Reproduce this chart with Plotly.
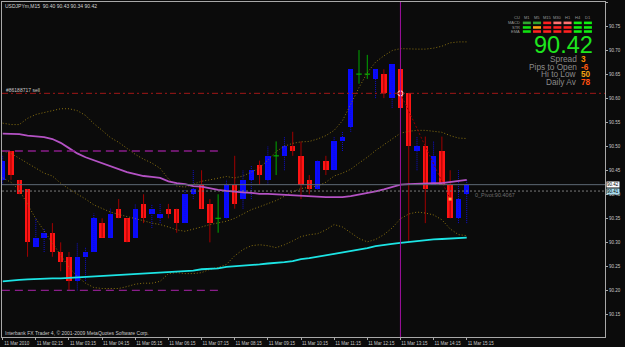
import plotly.graph_objects as go

# ---------------- data (USDJPYm, M15, 11 Mar 2010, bars from 01:15 to 15:15) ----------------
symbol = "USDJPYm,M15"
opens  = [90.43, 90.49, 90.43, 90.41, 90.29, 90.31, 90.32, 90.28, 90.27, 90.22,
          90.27, 90.28, 90.34, 90.31, 90.37, 90.35, 90.31, 90.38, 90.36, 90.35,
          90.37, 90.37, 90.34, 90.40, 90.42, 90.38, 90.35, 90.35, 90.42, 90.39,
          90.43, 90.46, 90.43, 90.48, 90.48, 90.50, 90.48, 90.43, 90.41, 90.47,
          90.45, 90.51, 90.54, 90.65, 90.65, 90.64, 90.65, 90.60, 90.66, 90.61,
          90.49, 90.50, 90.42, 90.49, 90.42, 90.35, 90.40]
highs  = [90.48, 90.49, 90.43, 90.41, 90.35, 90.33, 90.34, 90.30, 90.28, 90.30,
          90.29, 90.36, 90.35, 90.37, 90.39, 90.35, 90.38, 90.40, 90.38, 90.38,
          90.38, 90.37, 90.41, 90.45, 90.45, 90.39, 90.40, 90.43, 90.48, 90.45,
          90.46, 90.47, 90.50, 90.51, 90.52, 90.53, 90.51, 90.44, 90.47, 90.48,
          90.52, 90.53, 90.66, 90.70, 90.69, 90.66, 90.66, 90.67, 90.66, 90.61,
          90.52, 90.52, 90.51, 90.52, 90.45, 90.45, 90.43]
lows   = [90.42, 90.43, 90.40, 90.27, 90.29, 90.28, 90.27, 90.24, 90.20, 90.20,
          90.22, 90.28, 90.31, 90.31, 90.35, 90.30, 90.31, 90.34, 90.33, 90.34,
          90.35, 90.32, 90.34, 90.39, 90.37, 90.30, 90.32, 90.35, 90.37, 90.37,
          90.39, 90.42, 90.42, 90.44, 90.45, 90.48, 90.39, 90.40, 90.41, 90.44,
          90.45, 90.49, 90.53, 90.63, 90.64, 90.60, 90.60, 90.58, 90.58, 90.30,
          90.45, 90.34, 90.42, 90.42, 90.35, 90.34, 90.34]
closes = [90.47, 90.44, 90.40, 90.30, 90.31, 90.32, 90.28, 90.26, 90.22, 90.27,
          90.28, 90.35, 90.31, 90.36, 90.35, 90.30, 90.37, 90.35, 90.37, 90.36,
          90.36, 90.34, 90.40, 90.41, 90.37, 90.34, 90.35, 90.42, 90.38, 90.43,
          90.45, 90.44, 90.48, 90.48, 90.50, 90.49, 90.42, 90.41, 90.47, 90.45,
          90.51, 90.52, 90.66, 90.65, 90.65, 90.66, 90.61, 90.67, 90.58, 90.50,
          90.50, 90.41, 90.48, 90.42, 90.35, 90.39, 90.42]

ma_purple = [90.526, 90.526, 90.525, 90.522, 90.520, 90.519, 90.515, 90.507, 90.496, 90.485,
             90.477, 90.471, 90.465, 90.458, 90.452, 90.446, 90.442, 90.438, 90.436, 90.434,
             90.427, 90.423, 90.421, 90.417, 90.416, 90.412, 90.409, 90.407, 90.405, 90.404,
             90.403, 90.401, 90.401, 90.400, 90.399, 90.398, 90.396, 90.395, 90.394, 90.394,
             90.394, 90.394, 90.396, 90.399, 90.402, 90.406, 90.410, 90.415, 90.420, 90.421,
             90.422, 90.422, 90.423, 90.423, 90.425, 90.427, 90.430]
ma_cyan = [90.219, 90.221, 90.222, 90.223, 90.224, 90.224, 90.225, 90.225, 90.226, 90.227,
           90.227, 90.228, 90.229, 90.230, 90.231, 90.232, 90.233, 90.234, 90.235, 90.237,
           90.238, 90.239, 90.240, 90.241, 90.244, 90.245, 90.246, 90.249, 90.250, 90.251,
           90.252, 90.254, 90.256, 90.257, 90.259, 90.261, 90.265, 90.267, 90.270, 90.272,
           90.275, 90.278, 90.281, 90.285, 90.288, 90.292, 90.295, 90.297, 90.299, 90.301,
           90.302, 90.304, 90.306, 90.307, 90.308, 90.309, 90.310]
bb_upper = [90.548, 90.545, 90.545, 90.558, 90.566, 90.570, 90.574, 90.578, 90.578, 90.574,
            90.564, 90.547, 90.533, 90.518, 90.508, 90.496, 90.483, 90.473, 90.465, 90.454,
            90.432, 90.417, 90.415, 90.421, 90.427, 90.430, 90.433, 90.437, 90.434, 90.438,
            90.446, 90.455, 90.471, 90.489, 90.500, 90.506, 90.509, 90.510, 90.515, 90.522,
            90.533, 90.553, 90.587, 90.622, 90.653, 90.675, 90.688, 90.699, 90.703, 90.702,
            90.702, 90.702, 90.704, 90.708, 90.715, 90.717, 90.717]
bb_mid = [90.490, 90.485, 90.475, 90.465, 90.454, 90.444, 90.438, 90.423, 90.411, 90.401,
          90.390, 90.378, 90.371, 90.363, 90.358, 90.354, 90.350, 90.345, 90.340, 90.337,
          90.332, 90.326, 90.323, 90.327, 90.332, 90.337, 90.340, 90.344, 90.350, 90.359,
          90.368, 90.374, 90.380, 90.387, 90.396, 90.405, 90.412, 90.415, 90.417, 90.425,
          90.438, 90.444, 90.452, 90.465, 90.477, 90.491, 90.503, 90.514, 90.527, 90.531,
          90.533, 90.533, 90.531, 90.529, 90.522, 90.517, 90.516]
bb_lower = [90.434, 90.425, 90.409, 90.378, 90.349, 90.324, 90.299, 90.272, 90.248, 90.229,
            90.215, 90.206, 90.204, 90.204, 90.204, 90.208, 90.213, 90.215, 90.215, 90.219,
            90.235, 90.237, 90.235, 90.235, 90.237, 90.244, 90.248, 90.254, 90.272, 90.285,
            90.293, 90.295, 90.293, 90.289, 90.295, 90.303, 90.312, 90.316, 90.318, 90.326,
            90.337, 90.332, 90.320, 90.308, 90.301, 90.306, 90.316, 90.330, 90.349, 90.359,
            90.363, 90.361, 90.357, 90.347, 90.328, 90.316, 90.314]

tick_bars = [0, 4, 8, 12, 16, 20, 24, 28, 32, 36, 40, 44, 48, 52, 56]
tick_labels = ["11 Mar 2010", "11 Mar 02:15", "11 Mar 03:15", "11 Mar 04:15", "11 Mar 05:15",
               "11 Mar 06:15", "11 Mar 07:15", "11 Mar 08:15", "11 Mar 09:15", "11 Mar 10:15",
               "11 Mar 11:15", "11 Mar 12:15", "11 Mar 13:15", "11 Mar 14:15", "11 Mar 15:15"]
price_ticks = [90.15, 90.20, 90.25, 90.30, 90.35, 90.40, 90.45, 90.50,
               90.55, 90.60, 90.65, 90.70, 90.75, 90.80]
price_labels = ["90.15", "90.20", "90.25", "90.30", "90.35", "90.40", "90.45", "90.50",
                "90.55", "90.60", "90.65", "90.70", "90.75", "90.80"]

order_label = "#86188717 sell"
order_price = 90.61
pivot_price = 90.4067
pivot_text = "0_Pivot:90.4067"
pivot_box = "90.41"
sess_high = 90.49
sess_low = 90.20
sess_end_bar = 26.5
vline_bar = 48
trade_open = (48, 90.61)
trade_close = (54, 90.39)

tf_labels = ["M1", "M5", "M15", "M30", "H1", "H4", "D1"]
row_labels = ["MACD", "STR", "EMA"]
cell_colors = [
    ["#2FA52F", "#2FA52F", "#FF2020", "#FF7272", "#FF7272", "#10F010", "#10F010"],
    ["#10E010", "#FFA010", "#FF2020", "#FF2020", "#FF2020", "#10F010", "#10F010"],
    ["#10E010", "#FF2020", "#FF2020", "#FF2020", "#FF2020", "#10F010", "#10F010"],
]
last_price_text = "90.42"
info_labels = ["Spread", "Pips to Open", "Hi to Low", "Daily Av"]
info_values = ["3", "-6", "50", "78"]
info_colors = ["#FF8C00", "#FF5A10", "#F0A010", "#FF5010"]
copyright_text = "Interbank FX Trader 4, \u00a9 2001-2009 MetaQuotes Software Corp."

# ---------------- styling ----------------
BG = "#0B0B0B"
FRAME = "#A8A8A8"
FONT = "Liberation Sans, Arial, sans-serif"
W, H = 625, 347
PL, PR, PT, PB = 1, 605, 1, 338     # plot area in pixels

def fx(x):
    return (x - PL) / (PR - PL)

def fy(y):
    return (PB - y) / (PB - PT)

idx = list(range(len(opens)))
bull = [i for i in idx if closes[i] > opens[i]]
bear = [i for i in idx if closes[i] < opens[i]]
doji = [i for i in idx if closes[i] == opens[i]]

def wick_xy(sel):
    xs, ys = [], []
    for i in sel:
        xs += [i, i, None]
        ys += [lows[i], highs[i], None]
    return xs, ys

fig = go.Figure()

# wicks
for sel, col, dash in [(bear, "#A00000", "solid"), (bull, "#1010D0", "1px,1px"), (doji, "#00A800", "solid")]:
    xs, ys = wick_xy(sel)
    fig.add_trace(go.Scatter(x=xs, y=ys, mode="lines", line=dict(color=col, width=1, dash=dash),
                             hoverinfo="skip"))

BW = 0.66
# bodies
fig.add_trace(go.Bar(x=bull, y=[closes[i] - opens[i] for i in bull], base=[opens[i] for i in bull],
                     width=BW, marker=dict(color="#0A0AFF", line=dict(width=0)), hoverinfo="skip"))
fig.add_trace(go.Bar(x=bear, y=[opens[i] - closes[i] for i in bear], base=[closes[i] for i in bear],
                     width=BW, marker=dict(color="#FF1414", line=dict(width=0)), hoverinfo="skip"))
dx, dy = [], []
for i in doji:
    dx += [i - BW / 2, i + BW / 2, None]
    dy += [opens[i], opens[i], None]
fig.add_trace(go.Scatter(x=dx, y=dy, mode="lines", line=dict(color="#00B000", width=1.2), hoverinfo="skip"))

# indicators (drawn over the candles)
for arr in (bb_upper, bb_mid, bb_lower):
    fig.add_trace(go.Scatter(x=idx, y=arr, mode="lines",
                             line=dict(color="#8C7310", width=1, dash="1px,2px"), hoverinfo="skip"))
fig.add_trace(go.Scatter(x=idx, y=ma_purple, mode="lines", line=dict(color="#B452C4", width=1.8),
                         hoverinfo="skip"))
fig.add_trace(go.Scatter(x=idx, y=ma_cyan, mode="lines", line=dict(color="#1CE4E4", width=1.8),
                         hoverinfo="skip"))

# trade history
fig.add_trace(go.Scatter(x=[trade_open[0], trade_close[0]], y=[trade_open[1], trade_close[1]],
                         mode="lines", line=dict(color="#8B0000", width=1, dash="2px,2px"), hoverinfo="skip"))
fig.add_trace(go.Scatter(x=[trade_open[0]], y=[trade_open[1]], mode="markers",
                         marker=dict(symbol="circle-open", size=5, color="#FFB8B8", line=dict(width=1.2)),
                         hoverinfo="skip"))
fig.add_trace(go.Scatter(x=[trade_close[0]], y=[trade_close[1]], mode="markers",
                         marker=dict(symbol="square", size=3, color="#FFA040"), hoverinfo="skip"))

shapes = [
    dict(type="line", xref="paper", yref="y", x0=0, x1=1, y0=order_price, y1=order_price,
         line=dict(color="#A01818", width=1, dash="6px,3px,2px,3px")),
    dict(type="line", xref="paper", yref="y", x0=0, x1=1, y0=closes[-1], y1=closes[-1],
         line=dict(color="#5E6A76", width=1)),
    dict(type="line", xref="paper", yref="y", x0=0, x1=1, y0=pivot_price, y1=pivot_price,
         line=dict(color="#7A7A7A", width=1, dash="2px,2px")),
    dict(type="line", xref="x", yref="y", x0=-0.1, x1=sess_end_bar, y0=sess_high, y1=sess_high,
         line=dict(color="#8A1E8A", width=1.3, dash="8px,5px")),
    dict(type="line", xref="x", yref="y", x0=-0.1, x1=sess_end_bar, y0=sess_low, y1=sess_low,
         line=dict(color="#8A1E8A", width=1.3, dash="8px,5px")),
    dict(type="line", xref="x", yref="paper", x0=vline_bar, x1=vline_bar, y0=0, y1=1,
         line=dict(color="#A010A0", width=1)),
]

annotations = []

def ann(text, x, y, size, color, xanchor="left", yanchor="middle", xref="paper", yref="paper", **kw):
    annotations.append(dict(text=text, x=x, y=y, xref=xref, yref=yref, xanchor=xanchor, yanchor=yanchor,
                            showarrow=False, font=dict(family=FONT, size=size, color=color),
                            borderpad=0, **kw))

header = f"{symbol}&nbsp; {opens[-1]:.2f} {highs[-1]:.2f} {lows[-1]:.2f} {closes[-1]:.2f}"
ann(header, fx(3), fy(5.5), 5, "#D4D4D4")
ann(copyright_text, fx(3), fy(333.5), 5, "#C8C8C8")
ann(order_label, fx(4), fy(89.5), 5, "#C8C8C8")
ann(pivot_text, 56.9, pivot_price, 5.5, "#6E6E6E", yanchor="top", xref="x", yref="y")

# right axis boxes
ann(f"{closes[-1]:.2f}", 1.0 + 1.5 / (PR - PL), closes[-1], 4.5, "#000000", yref="y", bgcolor="#FFFFFF")
ann(pivot_box, 1.0 + 1.5 / (PR - PL), pivot_price, 4.5, "#000000", yref="y", bgcolor="#A8DCEC")

# indicator widget
col_x0, col_dx = 526.7, 10.2
row_y = [22.0, 26.6, 30.7]
ann("CU", fx(521), fy(16.7), 4, "#9A9A9A", xanchor="right")
for c, lab in enumerate(tf_labels):
    ann(lab, fx(col_x0 + col_dx * c), fy(16.7), 4, "#9A9A9A", xanchor="center")
for r, lab in enumerate(row_labels):
    ann(lab, fx(521), fy(row_y[r]), 4, "#9A9A9A", xanchor="right")
    for c, col in enumerate(cell_colors[r]):
        cx = col_x0 + col_dx * c
        shapes.append(dict(type="rect", xref="paper", yref="paper",
                           x0=fx(cx - 4), x1=fx(cx + 4), y0=fy(row_y[r] + 1.3), y1=fy(row_y[r] - 1.3),
                           fillcolor=col, line=dict(width=0)))
ann(last_price_text, fx(594), fy(44.5), 23.5, "#1EE61E", xanchor="right")
info_y = [58.5, 66, 73.5, 81]
for lab, val, col, yy in zip(info_labels, info_values, info_colors, info_y):
    ann(lab, fx(577.5), fy(yy), 8.3, "#8A8A8A", xanchor="right")
    ann(f"<b>{val}</b>", fx(580), fy(yy), 8.3, col, xanchor="left")

fig.update_layout(
    width=W, height=H,
    margin=dict(l=PL, r=W - PR, t=PT, b=H - PB, pad=0),
    paper_bgcolor=BG, plot_bgcolor=BG,
    showlegend=False, barmode="overlay", bargap=0,
    shapes=shapes, annotations=annotations,
    font=dict(family=FONT, color="#C8C8C8"),
    xaxis=dict(range=[(PL - 1.7) / 8.3, (PR - 1.7) / 8.3], showgrid=False, zeroline=False,
               showline=True, linecolor=FRAME, linewidth=1, mirror=True,
               ticks="outside", ticklen=2, tickcolor=FRAME, tickwidth=1,
               tickvals=tick_bars, ticktext=tick_labels, ticklabelshift=14,
               tickfont=dict(size=4.5, color="#C8C8C8", family=FONT)),
    yaxis=dict(range=[90.1031, 90.8000], side="right", showgrid=False, zeroline=False,
               showline=True, linecolor=FRAME, linewidth=1, mirror=True,
               ticks="outside", ticklen=2, tickcolor=FRAME, tickwidth=1,
               tickvals=price_ticks, ticktext=price_labels,
               tickfont=dict(size=4.5, color="#C8C8C8", family=FONT)),
)

fig.write_html("out.html", config={"displayModeBar": False})
